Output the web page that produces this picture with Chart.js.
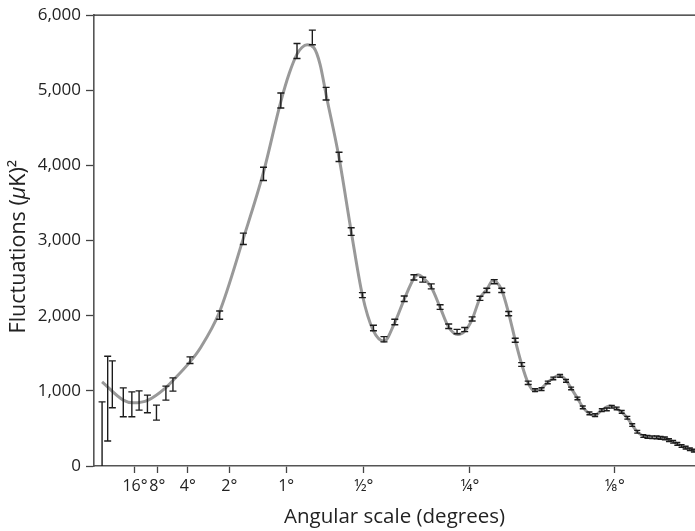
<!DOCTYPE html>
<html><head><meta charset="utf-8">
<script src="https://cdn.jsdelivr.net/npm/chart.js@4"></script>
<style>html,body{margin:0;padding:0;background:#fff}#wrap{width:695px;height:531px}</style>
</head><body><div id="wrap"><canvas id="c" width="695" height="531"></canvas></div>
<script>
// Binned measurements: multipole, lower and upper end of each error bar (μK²)
const binL = [2,3,4,7,10,13,17,22,28,33,47,78,109,140,170,201,233,264,295,326,356,387,418,451,481,513,543,573,605,637,669,699,729,761,790,822,855,886,916,946,977,1010,1042,1073,1101,1136,1167,1194,1228,1257,1294,1326,1364,1393,1422,1451,1481,1515,1545,1576,1614,1640,1670,1699,1725,1753,1780,1808,1836,1865,1893,1922,1950];
const binLow = [0,332,775,655,655,744,708,611,877,996,1364,1953,2949,3799,4765,5424,5606,4871,4052,3069,2241,1800,1652,1880,2190,2475,2447,2358,2085,1830,1760,1788,1929,2204,2310,2425,2310,2000,1648,1326,1084,992,1005,1094,1147,1182,1115,1014,881,762,682,659,726,735,770,748,703,624,527,438,381,370,365,363,357,350,327,305,277,248,227,204,187];
const binHigh = [854,1461,1399,1040,987,1000,943,810,1063,1173,1452,2063,3099,3976,4964,5623,5801,5039,4175,3171,2307,1874,1722,1954,2262,2545,2513,2424,2147,1890,1818,1844,1985,2260,2366,2481,2366,2056,1700,1376,1130,1028,1041,1130,1183,1218,1151,1050,917,798,718,695,762,771,806,784,739,660,563,474,417,406,401,399,393,386,363,341,313,284,263,240,223];
// Best-fit model curve
const curveL = [2,7,10.6,17.4,27.4,33.2,47,56.5,77.6,109,139.6,170,186,201,211,222,236,250,264,295,326,356,386,418,450,481,513,527,543,573,605,637,672,699,729,761,790,817,855,886,916,946,977,1005,1042,1073,1101,1131,1167,1194,1228,1257,1294,1321,1364,1411,1451,1481,1515,1545,1576,1614,1656,1753,1808,1865,1922,1958];
const curveD = [1120,877,841,877,1032,1142,1386,1564,2046,3029,3900,4850,5230,5482,5570,5606,5570,5350,4942,4105,3122,2272,1807,1660,1900,2218,2497,2544,2511,2378,2112,1846,1749,1793,1953,2232,2351,2471,2338,2032,1674,1355,1102,1000,1036,1116,1169,1209,1142,1036,903,784,697,668,744,797,764,717,638,545,456,399,381,368,323,266,222,199];
// Axis ticks
const tickAngles = [16,8,4,2,1,0.5,0.25,0.125];
const tickLabels = ['16°','8°','4°','2°','1°','½°','¼°','⅛°'];
const yTickValues = [0,1000,2000,3000,4000,5000,6000];

const P = 0.45;
const xOf = l => Math.pow(l, P);
const FONT = "'Open Sans', 'DejaVu Sans', sans-serif";

const errorBars = {
  id: 'errorBars',
  afterDatasetsDraw(chart) {
    const {ctx, chartArea, scales: {x, y}} = chart;
    ctx.save();
    ctx.beginPath();
    ctx.rect(chartArea.left, chartArea.top - 6, chartArea.right - chartArea.left, chartArea.bottom - chartArea.top + 6);
    ctx.clip();
    ctx.strokeStyle = '#1c1c1c';
    ctx.lineWidth = 1.4;
    binL.forEach((l, i) => {
      const px = x.getPixelForValue(xOf(l));
      const y1 = y.getPixelForValue(Math.max(binLow[i], 0));
      const y2 = y.getPixelForValue(binHigh[i]);
      const hw = l < 1000 ? 3.5 : 3;
      ctx.beginPath();
      ctx.moveTo(px, y1); ctx.lineTo(px, y2);
      ctx.moveTo(px - hw, y2); ctx.lineTo(px + hw, y2);
      if (binLow[i] > 0) { ctx.moveTo(px - hw, y1); ctx.lineTo(px + hw, y1); }
      ctx.stroke();
    });
    ctx.restore();
  }
};

const frame = {
  id: 'frame',
  afterDraw(chart) {
    const {ctx, chartArea} = chart;
    ctx.save();
    ctx.strokeStyle = '#222';
    ctx.lineWidth = 1.2;
    ctx.beginPath();
    ctx.moveTo(chartArea.left, chartArea.top);
    ctx.lineTo(chartArea.right, chartArea.top);
    ctx.stroke();
    // y-axis title with italic mu
    const parts = [['Fluctuations (', 'normal'], ['μ', 'italic'], ['K)', 'normal'], ['²', 'normal']];
    const size = 21.5;
    ctx.fillStyle = '#222';
    ctx.textBaseline = 'middle';
    let total = 0;
    parts.forEach(p => { ctx.font = p[1] + ' ' + size + 'px ' + FONT; total += ctx.measureText(p[0]).width; });
    ctx.translate(19, (chartArea.top + chartArea.bottom) / 2 + 6);
    ctx.rotate(-Math.PI / 2);
    let cx = -total / 2;
    parts.forEach(p => {
      ctx.font = p[1] + ' ' + size + 'px ' + FONT;
      ctx.fillText(p[0], cx, 0);
      cx += ctx.measureText(p[0]).width;
    });
    ctx.restore();
  }
};

new Chart(document.getElementById('c'), {
  type: 'scatter',
  data: {
    datasets: [
      {
        type: 'line',
        data: curveL.map((l, i) => ({x: xOf(l), y: curveD[i]})),
        borderColor: '#999999',
        borderWidth: 3,
        pointRadius: 0,
        fill: false,
        cubicInterpolationMode: 'monotone',
        clip: 2
      },
      {
        data: binL.map((l, i) => ({x: xOf(l), y: (binLow[i] + binHigh[i]) / 2})),
        pointRadius: 0,
        showLine: false
      }
    ]
  },
  options: {
    responsive: false,
    animation: false,
    devicePixelRatio: 1,
    layout: {padding: {left: 0, right: 0, top: 14, bottom: 0}},
    plugins: {legend: {display: false}, tooltip: {enabled: false}},
    scales: {
      x: {
        type: 'linear',
        min: 0.972,
        max: 30.29,
        afterFit: s => { s.height = 65; },
        afterBuildTicks: s => { s.ticks = tickAngles.map(a => ({value: xOf(180 / a)})); },
        ticks: {
          autoSkip: false,
          maxRotation: 0,
          padding: 4,
          color: '#222',
          font: {family: FONT, size: 16},
          callback: (v, i) => tickLabels[i]
        },
        grid: {display: true, drawOnChartArea: false, drawTicks: true, tickLength: 7, tickColor: '#444', tickWidth: 1.3},
        border: {display: true, color: '#555', width: 1.6},
        title: {display: true, text: 'Angular scale (degrees)', color: '#222', font: {family: FONT, size: 20.5}, padding: {top: 0, bottom: 2}}
      },
      y: {
        type: 'linear',
        min: 0,
        max: 6000,
        afterFit: s => { s.width = 94; },
        afterBuildTicks: s => { s.ticks = yTickValues.map(v => ({value: v})); },
        ticks: {
          padding: 5,
          color: '#222',
          font: {family: FONT, size: 17},
          callback: v => v.toLocaleString('en-US')
        },
        grid: {display: true, drawOnChartArea: false, drawTicks: true, tickLength: 8, tickColor: '#444', tickWidth: 1.3},
        border: {display: true, color: '#555', width: 1.6},
        title: {display: false}
      }
    }
  },
  plugins: [errorBars, frame]
});
</script>
</body></html>
